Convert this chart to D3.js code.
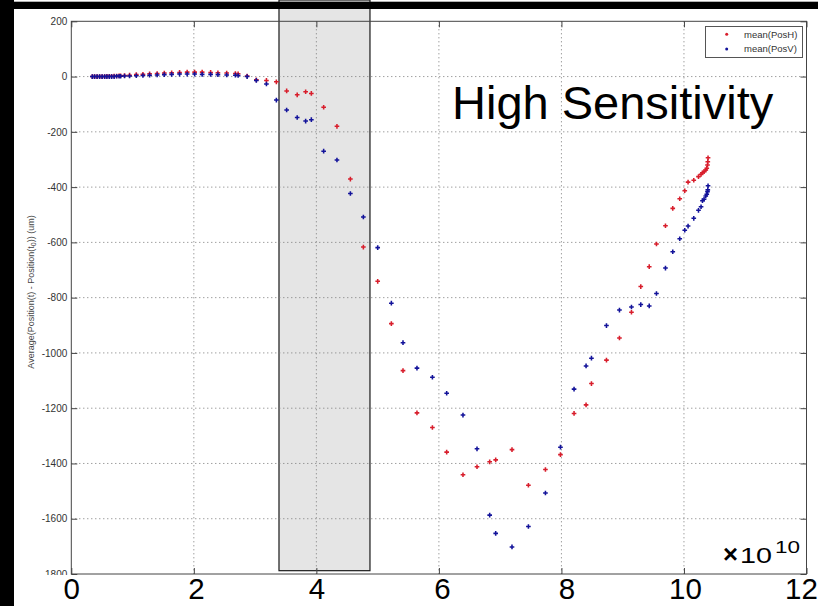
<!DOCTYPE html>
<html>
<head>
<meta charset="utf-8">
<script src="https://cdn.jsdelivr.net/npm/d3@7"></script>
<style>
  body { margin: 0; background: #fff; }
  svg { display: block; font-family: "Liberation Sans", Arial, sans-serif; }
</style>
</head>
<body>
<div id="chart"></div>
<script>
// time axis, in units of 1e10
const tValues = [
  0.343, 0.380, 0.421, 0.462, 0.503, 0.544, 0.581, 0.620, 0.658, 0.699,
  0.740, 0.780, 0.805, 0.869, 0.951, 1.061, 1.169, 1.278, 1.401, 1.518,
  1.638, 1.767, 1.891, 2.013, 2.136, 2.274, 2.393, 2.536, 2.678, 2.723,
  2.870, 3.020, 3.185, 3.347, 3.515, 3.687, 3.825, 3.918, 4.119, 4.336,
  4.555, 4.767, 5.001, 5.224, 5.414, 5.642, 5.894, 6.127, 6.393, 6.622,
  6.829, 6.927, 7.193, 7.461, 7.739, 7.984, 8.206, 8.402, 8.490, 8.735,
  8.947, 9.143, 9.295, 9.433, 9.551, 9.698, 9.817, 9.931, 10.013, 10.067,
  10.160, 10.237, 10.279, 10.302, 10.328, 10.356, 10.372, 10.384, 10.389, 10.393
];
const posH = [
  0, 0, 0, 0, 0, 0, 1, 1, 1, 2,
  2, 3, 3, 4, 5, 7, 8, 10, 11, 13,
  14, 15, 16, 16, 16, 15, 14, 13, 11, 10,
  2, -12, -14, -19, -52, -66, -55, -61, -111, -180,
  -371, -617, -741, -894, -1064, -1217, -1270, -1359, -1441, -1412,
  -1394, -1387, -1350, -1479, -1422, -1368, -1219, -1188, -1111, -1026,
  -946, -853, -760, -688, -606, -540, -477, -442, -413, -382,
  -375, -362, -354, -348, -344, -338, -332, -320, -308, -294
];
const posV = [
  0, 0, 0, 0, 0, 0, 0, 0, 0, 0,
  1, 1, 1, 2, 2, 3, 4, 5, 6, 7,
  8, 9, 9, 9, 8, 8, 7, 6, 5, 4,
  0, -14, -27, -85, -121, -148, -161, -156, -270, -302,
  -423, -508, -619, -820, -963, -1055, -1088, -1146, -1225, -1347,
  -1587, -1653, -1702, -1628, -1507, -1341, -1131, -1047, -1019, -901,
  -845, -834, -825, -830, -785, -693, -634, -587, -556, -541,
  -513, -484, -471, -449, -444, -432, -426, -417, -410, -395
];
const seriesNames = ["mean(PosH)", "mean(PosV)"];
const seriesColors = ["#d81e2c", "#13139a"];
const xTicks = [0, 2, 4, 6, 8, 10, 12];
const yTicks = [200, 0, -200, -400, -600, -800, -1000, -1200, -1400, -1600, -1800];
const highlightT = [3.39, 4.875];   // shaded window on the time axis

const W = 818, H = 606;
const plotL = 71.3, plotR = 806.5, plotT = 21.3, plotB = 574;
// the big x labels sit a little off their ticks in the source
const xLabelShift = [0, 2, 0, 3, 5, 1, -5.5];

const svg = d3.select("#chart").append("svg")
  .attr("width", W).attr("height", H);

const x = d3.scaleLinear().domain([0, 12]).range([plotL, plotR]);
const y = d3.scaleLinear().domain([-1800, 200]).range([plotB, plotT]);

// shaded window
svg.append("rect")
  .attr("x", x(highlightT[0]))
  .attr("y", 0)
  .attr("width", x(highlightT[1]) - x(highlightT[0]))
  .attr("height", y(-1788))
  .attr("fill", "#e5e5e5")
  .attr("stroke", "#1a1a1a")
  .attr("stroke-width", 1.2);

// grid
svg.append("g")
  .selectAll("line")
  .data(xTicks.filter(d => d > 0 && d < 12))
  .join("line")
  .attr("x1", d => x(d)).attr("x2", d => x(d))
  .attr("y1", plotT).attr("y2", plotB)
  .attr("stroke", "#777").attr("stroke-dasharray", "1,3");

svg.append("g")
  .selectAll("line")
  .data(yTicks.filter(d => d < 200 && d > -1800))
  .join("line")
  .attr("x1", plotL).attr("x2", plotR)
  .attr("y1", d => y(d)).attr("y2", d => y(d))
  .attr("stroke", "#777").attr("stroke-dasharray", "1,3");

// ticks inside the box
const yl = svg.append("g")
  .attr("transform", `translate(${plotL},0)`)
  .call(d3.axisLeft(y).tickValues(yTicks).tickSizeInner(-6).tickSizeOuter(0).tickPadding(4)
    .tickFormat(d => d));
yl.select(".domain").remove();
yl.selectAll("line").attr("stroke", "#444");
yl.selectAll("text").attr("font-size", 10).attr("fill", "#333")
  .attr("font-family", "'Liberation Sans', Arial, sans-serif");

const yr = svg.append("g")
  .attr("transform", `translate(${plotR},0)`)
  .call(d3.axisRight(y).tickValues(yTicks).tickSizeInner(-6).tickSizeOuter(0).tickFormat(""));
yr.select(".domain").remove();
yr.selectAll("line").attr("stroke", "#444");

const xt = svg.append("g")
  .attr("transform", `translate(0,${plotT})`)
  .call(d3.axisTop(x).tickValues(xTicks).tickSizeInner(-6).tickSizeOuter(0).tickFormat(""));
xt.select(".domain").remove();
xt.selectAll("line").attr("stroke", "#444");

// data points
const symbol = d3.symbol().type(d3.symbolCross).size(12);
[posH, posV].forEach((vals, k) => {
  svg.append("g")
    .selectAll("path")
    .data(tValues.map((t, i) => [t, vals[i]]))
    .join("path")
    .attr("d", symbol)
    .attr("transform", d => `translate(${x(d[0])},${y(d[1])})`)
    .attr("fill", seriesColors[k]);
});

// box
svg.append("rect")
  .attr("x", plotL).attr("y", plotT)
  .attr("width", plotR - plotL).attr("height", plotB - plotT)
  .attr("fill", "none").attr("stroke", "#444").attr("stroke-width", 1);

// white band under the box (clips the lowest y label like the source)
svg.append("rect")
  .attr("x", 14).attr("y", plotB + 1)
  .attr("width", W - 14).attr("height", H - plotB - 1)
  .attr("fill", "#fff");

const xb = svg.append("g")
  .attr("transform", `translate(0,${plotB})`)
  .call(d3.axisBottom(x).tickValues(xTicks).tickSizeInner(-6).tickSizeOuter(0).tickPadding(5)
    .tickFormat(d => d));
xb.select(".domain").remove();
xb.selectAll("line").attr("stroke", "#444");
xb.selectAll("text")
  .attr("font-size", 29.5).attr("fill", "#000")
  .attr("font-family", "'Liberation Sans', Arial, sans-serif")
  .attr("dx", (d, i) => xLabelShift[i])
  .attr("y", 4.5);

// exponent
svg.append("text")
  .attr("x", 723).attr("y", 562.5)
  .attr("font-size", 26).attr("font-weight", "bold")
  .attr("textLength", 15).attr("lengthAdjust", "spacingAndGlyphs")
  .text("×");
svg.append("text")
  .attr("x", 740).attr("y", 562.5)
  .attr("font-size", 22)
  .attr("textLength", 32).attr("lengthAdjust", "spacingAndGlyphs")
  .text("10");
svg.append("text")
  .attr("x", 775).attr("y", 553)
  .attr("font-size", 16)
  .attr("textLength", 25).attr("lengthAdjust", "spacingAndGlyphs")
  .text("10");

// y label
const ylab = svg.append("text")
  .attr("transform", "translate(31,292) rotate(-90)")
  .attr("text-anchor", "middle")
  .attr("dominant-baseline", "central")
  .attr("font-size", 9)
  .attr("fill", "#444");
ylab.append("tspan").text("Average(Position(t) - Position(t");
ylab.append("tspan").attr("font-size", 7).attr("dy", 2).text("0");
ylab.append("tspan").attr("dy", -2).text(")) (um)");

// big annotation
svg.append("text")
  .attr("x", 452).attr("y", 119)
  .attr("font-size", 47)
  .attr("fill", "#000")
  .text("High Sensitivity");

// legend
const lg = svg.append("g");
lg.append("rect")
  .attr("x", 705.5).attr("y", 26.5)
  .attr("width", 97).attr("height", 31)
  .attr("fill", "#fff").attr("stroke", "#555");
seriesNames.forEach((name, k) => {
  const ly = 34.3 + k * 14.7;
  lg.append("circle")
    .attr("cx", 726.7).attr("cy", ly).attr("r", 1.5)
    .attr("fill", seriesColors[k]);
  lg.append("text")
    .attr("x", 744).attr("y", ly).attr("dy", "0.35em")
    .attr("font-size", 9.5).attr("fill", "#333")
    .text(name);
});

// black frame pieces from the screenshot
svg.append("rect").attr("x", 0).attr("y", 1.7).attr("width", W).attr("height", 7.3).attr("fill", "#000");
svg.append("rect").attr("x", 0).attr("y", 0).attr("width", 14).attr("height", H).attr("fill", "#000");
</script>
</body>
</html>
